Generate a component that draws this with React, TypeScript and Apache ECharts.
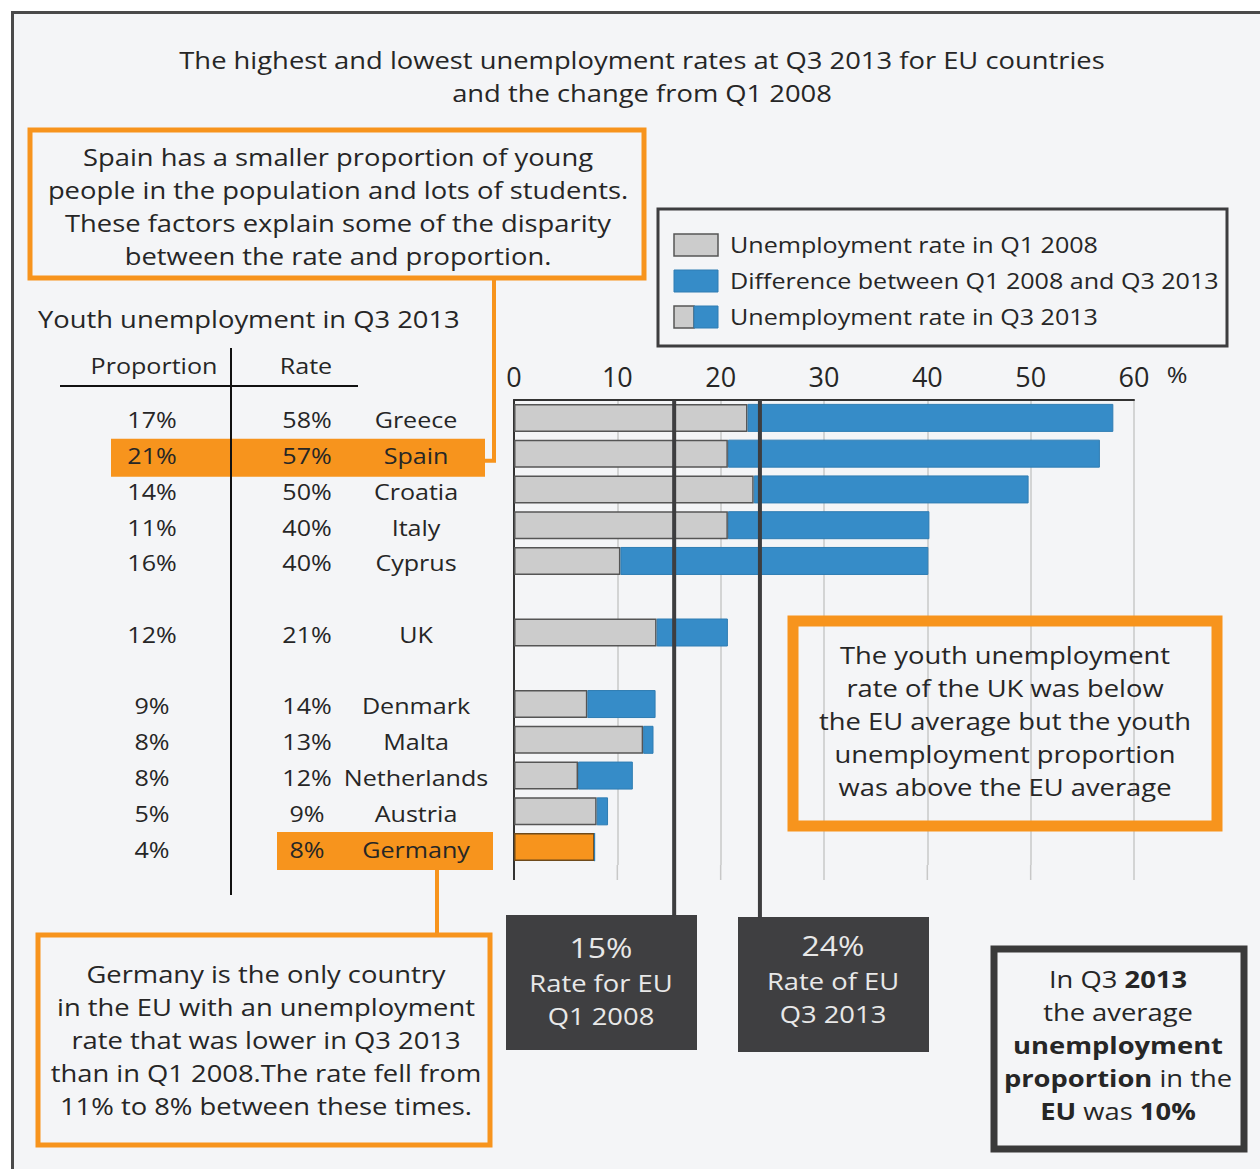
import React, { useEffect, useRef } from "react";
import * as echarts from "echarts";

// ---------- data ----------
const categories = ["Greece", "Spain", "Croatia", "Italy", "Cyprus", "gap1", "UK", "gap2", "Denmark", "Malta", "Netherlands", "Austria", "Germany"];
const proportionLabels = ["17%", "21%", "14%", "11%", "16%", "", "12%", "", "9%", "8%", "8%", "5%", "4%"];
const rateLabels = ["58%", "57%", "50%", "40%", "40%", "", "21%", "", "14%", "13%", "12%", "9%", "8%"];
const rateQ1_2008: (number | null)[] = [22.6, 20.7, 23.2, 20.7, 10.3, null, 13.8, null, 7.1, 12.5, 6.2, 8.0, 11.0];
const rateQ3_2013: (number | null)[] = [58.0, 56.7, 49.8, 40.2, 40.1, null, 20.7, null, 13.7, 13.5, 11.5, 9.1, 7.8];
const xTicks = [0, 10, 20, 30, 40, 50, 60];
const euRateQ1_2008 = 15.5;
const euRateQ3_2013 = 23.8;

// ---------- style ----------
const FONT = "'Open Sans', 'Noto Sans', sans-serif";
const ORANGE = "#f7941d";
const BLUE = "#368cc8";
const GRAY = "#cccccc";
const DARK = "#3d3d3f";
const TEXT = "#262626";
const BG = "#f4f5f7";
const SX = 1.14; // horizontal stretch of the reference lettering

const GRID_LEFT = 514;
const GRID_TOP = 400;
const GRID_W = 620;
const GRID_H = 465;

export default function App() {
  const ref = useRef<HTMLDivElement>(null);

  useEffect(() => {
    document.body.style.margin = "0";
    const chart = echarts.init(ref.current!, null, { renderer: "svg" });

    const baseData = categories.map((_, i) => {
      const a = rateQ1_2008[i];
      const b = rateQ3_2013[i];
      if (a == null || b == null) return null;
      if (b < a) return { value: b, itemStyle: { color: ORANGE, borderColor: "#6e4a1c" } };
      return a;
    });
    const diffData = categories.map((_, i) => {
      const a = rateQ1_2008[i];
      const b = rateQ3_2013[i];
      if (a == null || b == null) return null;
      return Math.max(0, +(b - a).toFixed(1));
    });

    const option: any = {
      animation: false,
      backgroundColor: BG,
      textStyle: { fontFamily: FONT },
      grid: { left: GRID_LEFT, top: GRID_TOP, width: GRID_W, height: GRID_H, containLabel: false, outerBoundsMode: "none" },
      xAxis: {
        type: "value",
        position: "top",
        min: xTicks[0],
        max: xTicks[xTicks.length - 1],
        interval: 10,
        axisLine: { show: true, lineStyle: { color: "#333", width: 2 } },
        axisTick: { show: false },
        splitLine: { show: true, lineStyle: { color: "#c8c8c8", width: 1.5 } },
        axisLabel: { fontSize: 27, fontFamily: FONT, color: TEXT, margin: 10 },
      },
      yAxis: {
        type: "category",
        position: "left",
        data: categories,
        inverse: true,
        axisTick: { show: false },
        splitLine: { show: false },
        axisLine: { show: true, lineStyle: { color: "#333", width: 2 } },
        axisLabel: { show: false },
      },
      series: [
        {
          name: "Unemployment rate in Q1 2008",
          type: "bar",
          stack: "rate",
          barWidth: 28,
          data: baseData,
          itemStyle: { color: GRAY, borderColor: "#555", borderWidth: 1.5 },
        },
        {
          name: "Difference between Q1 2008 and Q3 2013",
          type: "bar",
          stack: "rate",
          barWidth: 28,
          data: diffData,
          itemStyle: { color: BLUE, borderColor: "#2f7db3", borderWidth: 1 },
        },
      ],
    };
    chart.setOption(option);

    const P = (x: number, c: string) =>
      chart.convertToPixel({ xAxisIndex: 0, yAxisIndex: 0 } as any, [x, c] as any) as unknown as number[];

    const gridBottom = GRID_TOP + GRID_H;
    const t = (text: string, x: number, y: number, size: number, opts: any = {}, sx: number = SX) => ({
      type: "text",
      z: 20,
      x,
      y,
      scaleX: sx,
      style: {
        text,
        x: 0,
        y: 0,
        fontSize: size,
        fontFamily: FONT,
        fill: TEXT,
        align: "center",
        verticalAlign: "middle",
        textAlign: "center",
        textVerticalAlign: "middle",
        lineHeight: 33,
        ...opts,
      },
    });
    const left = { align: "left", textAlign: "left" };

    const ySpain = P(0, "Spain")[1];
    const yGermany = P(0, "Germany")[1];
    const xEu1 = P(euRateQ1_2008, "Greece")[0];
    const xEu2 = P(euRateQ3_2013, "Greece")[0];

    const graphics: any[] = [
      // outer white margins and frame
      { type: "rect", z: -5, shape: { x: 0, y: 0, width: 1260, height: 11 }, style: { fill: "#fff" } },
      { type: "rect", z: -5, shape: { x: 0, y: 0, width: 11, height: 1169 }, style: { fill: "#fff" } },
      { type: "line", z: 30, shape: { x1: 11, y1: 12.5, x2: 1260, y2: 12.5 }, style: { stroke: "#4a4a4a", lineWidth: 3 } },
      { type: "line", z: 30, shape: { x1: 12.5, y1: 11, x2: 12.5, y2: 1169 }, style: { stroke: "#4a4a4a", lineWidth: 3 } },

      // title
      t("The highest and lowest unemployment rates at Q3 2013 for EU countries\nand the change from Q1 2008", 642, 76, 24),

      // Spain annotation
      { type: "rect", z: 5, shape: { x: 30, y: 130, width: 614, height: 148 }, style: { fill: "none", stroke: ORANGE, lineWidth: 5 } },
      t("Spain has a smaller proportion of young\npeople in the population and lots of students.\nThese factors explain some of the disparity\nbetween the rate and proportion.", 338, 206, 24),
      { type: "polyline", z: 5, shape: { points: [[494, 280], [494, ySpain + 7], [484, ySpain + 7]] }, style: { fill: "none", stroke: ORANGE, lineWidth: 4 } },

      // table header
      t("Youth unemployment in Q3 2013", 38, 319, 24, left),
      t("Proportion", 154, 366, 22),
      t("Rate", 306, 366, 22),
      { type: "line", z: 5, shape: { x1: 60, y1: 386, x2: 358, y2: 386 }, style: { stroke: "#111", lineWidth: 2 } },
      { type: "line", z: 5, shape: { x1: 231, y1: 348, x2: 231, y2: 895 }, style: { stroke: "#111", lineWidth: 2 } },

      // highlights
      { type: "rect", z: -1, shape: { x: 111, y: ySpain - 15, width: 374, height: 38 }, style: { fill: ORANGE } },
      { type: "rect", z: -1, shape: { x: 277, y: yGermany - 15, width: 216, height: 38 }, style: { fill: ORANGE } },
      { type: "line", z: 5, shape: { x1: 437, y1: yGermany + 22, x2: 437, y2: 935 }, style: { stroke: ORANGE, lineWidth: 4 } },

      // Germany annotation
      { type: "rect", z: 5, shape: { x: 38, y: 935, width: 452, height: 210 }, style: { fill: "none", stroke: ORANGE, lineWidth: 5 } },
      t("Germany is the only country\nin the EU with an unemployment\nrate that was lower in Q3 2013\nthan in Q1 2008.The rate fell from\n11% to 8% between these times.", 266, 1040, 24),

      // % unit
      t("%", 1177, 375, 22),

      // legend
      { type: "rect", z: 5, shape: { x: 658, y: 209, width: 569, height: 137 }, style: { fill: "none", stroke: DARK, lineWidth: 3 } },
      { type: "rect", z: 5, shape: { x: 674, y: 234, width: 44, height: 22 }, style: { fill: GRAY, stroke: "#555", lineWidth: 1.5 } },
      { type: "rect", z: 5, shape: { x: 674, y: 270, width: 44, height: 22 }, style: { fill: BLUE, stroke: "#2f7db3", lineWidth: 1 } },
      { type: "rect", z: 5, shape: { x: 674, y: 306, width: 20, height: 22 }, style: { fill: GRAY, stroke: "#555", lineWidth: 1.5 } },
      { type: "rect", z: 5, shape: { x: 694, y: 306, width: 24, height: 22 }, style: { fill: BLUE, stroke: "#2f7db3", lineWidth: 1 } },
      t("Unemployment rate in Q1 2008", 730, 245, 22, left),
      t("Difference between Q1 2008 and Q3 2013", 730, 281, 22, left),
      t("Unemployment rate in Q3 2013", 730, 317, 22, left),

      // UK annotation
      { type: "rect", z: 5, shape: { x: 793, y: 621, width: 424, height: 205 }, style: { fill: "none", stroke: ORANGE, lineWidth: 11 } },
      t("The youth unemployment\nrate of the UK was below\nthe EU average but the youth\nunemployment proportion\nwas above the EU average", 1005, 721, 24),

      // EU rate lines
      { type: "line", z: 10, shape: { x1: xEu1, y1: GRID_TOP, x2: xEu1, y2: 916 }, style: { stroke: DARK, lineWidth: 4 } },
      { type: "line", z: 10, shape: { x1: xEu2, y1: GRID_TOP, x2: xEu2, y2: 918 }, style: { stroke: DARK, lineWidth: 4 } },

      // EU boxes
      { type: "rect", z: 8, shape: { x: 506, y: 915, width: 191, height: 135 }, style: { fill: "#3f3f41" } },
      t("15%", 601, 947, 28, { fill: "#e8e8e8" }),
      t("Rate for EU\nQ1 2008", 601, 999, 24, { fill: "#e8e8e8" }),
      { type: "rect", z: 8, shape: { x: 738, y: 917, width: 191, height: 135 }, style: { fill: "#3f3f41" } },
      t("24%", 833, 945, 28, { fill: "#e8e8e8" }),
      t("Rate of EU\nQ3 2013", 833, 997, 24, { fill: "#e8e8e8" }),

      // EU proportion box
      { type: "rect", z: 5, shape: { x: 994, y: 949, width: 250, height: 200 }, style: { fill: "none", stroke: "#3a3a3a", lineWidth: 7 } },
      t("In Q3 {b|2013}\nthe average\n{b|unemployment}\n{b|proportion} in the\n{b|EU} was {b|10%}", 1118, 1045, 24, {
        rich: { b: { fontWeight: "bold", fontSize: 24, fontFamily: FONT, fill: TEXT, lineHeight: 33 } },
      }),
    ];

    // table rows, positioned on the category axis
    categories.forEach((c, i) => {
      if (c.startsWith("gap")) return;
      const y = P(0, c)[1] + 2;
      graphics.push(t(c, 416, y, 22));
      graphics.push(t(rateLabels[i], 307, y, 22));
      graphics.push(t(proportionLabels[i], 152, y, 22));
    });

    // extend gridlines below the plot
    xTicks.forEach((tk) => {
      const x = P(tk, "Germany")[0];
      graphics.push({
        type: "line",
        z: 0,
        shape: { x1: x, y1: gridBottom, x2: x, y2: gridBottom + 15 },
        style: { stroke: tk === 0 ? "#333" : "#c8c8c8", lineWidth: tk === 0 ? 2 : 1.5 },
      });
    });

    chart.setOption({ graphic: { elements: graphics } });

    return () => chart.dispose();
  }, []);

  return <div ref={ref} style={{ position: "absolute", left: 0, top: 0, width: 1260, height: 1169 }} />;
}
